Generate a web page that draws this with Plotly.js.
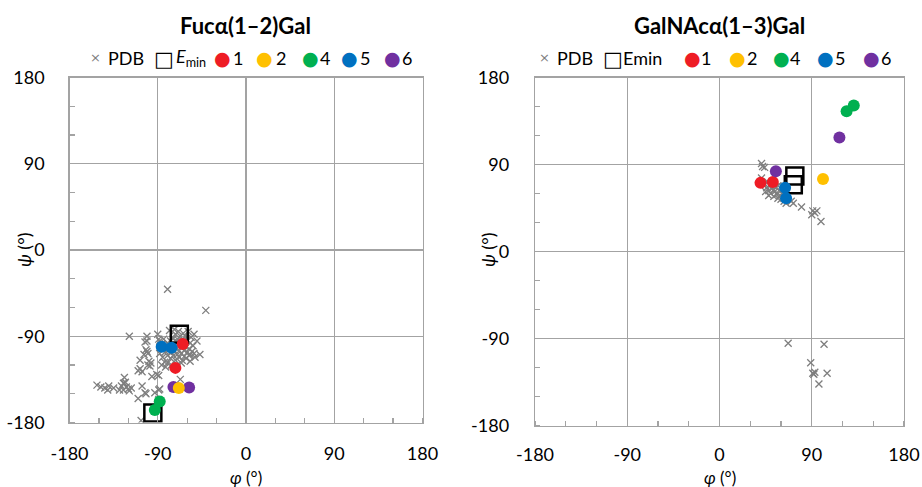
<!DOCTYPE html>
<html>
<head>
<meta charset="utf-8">
<script src="https://cdn.plot.ly/plotly-3.0.1.min.js"></script>
<style>html,body{margin:0;padding:0;background:#fff;}#chart{width:922px;height:487px;}</style>
</head>
<body>
<div id="chart"></div>
<script>
// ---------- Data: Fucα(1–2)Gal (left) ----------
const pdbPhiL = [-80,-41,-119,-101,-101,-102,-100,-104,-108,-99,-97,-100,-98,-108,-110,-106,-96,-91,-124,-125,-123,-152,-144,-140,-141,-135,-129,-127,-124,-122,-125,-120,-117,-119,-106,-110,-103,-102,-107,-89,-89,-89,-88,-93,-82,-67,-47,-53,-57,-103,-101,-90,-89,-148,
 -88,-86,-84,-83,-82,-80,-80,-79,-78,-77,-77,-76,-75,-75,-74,-74,-73,-73,-72,-72,-71,-71,-70,-70,-69,-69,-68,-68,-67,-67,-66,-66,-65,-65,-64,-64,-63,-63,-62,-62,-61,-60,-60,-59,-58,-58,-57,-56,-55,-54,-53,-52,-85,-83,-80,-78,-73,-88,-86,-76,-66,-61,-57,-50];
const pdbPsiL = [-41,-63,-90,-90,-95,-104,-108,-109,-115,-116,-118,-120,-121,-124,-126,-127,-132,-130,-133,-139,-138,-141,-144,-142,-146,-144,-146,-142,-139,-143,-146,-145,-144,-147,-142,-155,-149,-150,-178,-156,-146,-131,-145,-149,-122,-135,-109,-108,-109,-96,-106,-88,-93,-143,
 -95,-98,-93,-102,-106,-97,-110,-104,-99,-95,-113,-107,-103,-97,-110,-92,-100,-106,-115,-88,-96,-103,-109,-93,-100,-85,-105,-112,-97,-90,-102,-108,-94,-115,-99,-87,-105,-111,-96,-90,-101,-107,-94,-85,-103,-110,-97,-91,-106,-100,-88,-112,-112,-117,-118,-84,-83,-108,-120,-120,-118,-113,-116,-95];
const eminPhiL = [-95,-68];
const eminPsiL = [-170,-88];
const s1PhiL = [-64.5,-72], s1PsiL = [-98,-123];
const s2PhiL = [-68.5],     s2PsiL = [-144];
const s4PhiL = [-88,-93],   s4PsiL = [-158,-167];
const s5PhiL = [-86,-76],   s5PsiL = [-101,-102];
const s6PhiL = [-74,-58],   s6PsiL = [-143,-143.5];

// ---------- Data: GalNAcα(1–3)Gal (right) ----------
const pdbPhiR = [41,42,44,41,44,46,47,48,49,50,51,52,53,54,55,56,57,58,59,60,61,62,48,53,57,45,63,65,70,72,80,90,91,93,95,99,67,102,89,93,92,91,105,97];
const pdbPsiR = [91,88,87,76,70,66,72,63,68,60,65,70,57,62,67,59,55,63,58,54,60,56,58,64,68,62,52,50,52,50,46,38,42,40,42,31,-95,-96,-115,-125,-127,-126,-126,-137];
const eminPhiR = [73.5,72];
const eminPsiR = [78,69];
const s1PhiR = [40,52],   s1PsiR = [71,72];
const s2PhiR = [101],     s2PsiR = [75];
const s4PhiR = [131,124], s4PsiR = [151,145];
const s5PhiR = [64,65],   s5PsiR = [66,55];
const s6PhiR = [55,117],  s6PsiR = [83,118];

const seriesNames = ['1','2','4','5','6'];
const seriesColors = ['#EE1C25','#FFC000','#00B050','#0070C0','#7030A0'];
const tickVals = [-180,-90,0,90,180];
const tickText = ['-180','-90','0','90','180'];

const FONT = 'Lato, "Noto Sans", "DejaVu Sans", sans-serif';

function pdbTrace(x,y,xa,ya){
  return {type:'scatter',mode:'markers',x:x,y:y,xaxis:xa,yaxis:ya,showlegend:false,name:'PDB',
    marker:{symbol:'x-thin',size:7,color:'#7F7F7F',line:{color:'#7F7F7F',width:1.3}}};
}
function eminTrace(x,y,xa,ya){
  return {type:'scatter',mode:'markers',x:x,y:y,xaxis:xa,yaxis:ya,showlegend:false,name:'Emin',
    marker:{symbol:'square-open',size:17,color:'#000',line:{color:'#000',width:2.5}}};
}
function dotTrace(x,y,i,xa,ya){
  return {type:'scatter',mode:'markers',x:x,y:y,xaxis:xa,yaxis:ya,showlegend:false,name:seriesNames[i],
    marker:{symbol:'circle',size:12,color:seriesColors[i]}};
}

const data = [
  pdbTrace(pdbPhiL,pdbPsiL,'x','y'),
  eminTrace(eminPhiL,eminPsiL,'x','y'),
  dotTrace(s1PhiL,s1PsiL,0,'x','y'),
  dotTrace(s6PhiL,s6PsiL,4,'x','y'),
  dotTrace(s2PhiL,s2PsiL,1,'x','y'),
  dotTrace(s4PhiL,s4PsiL,2,'x','y'),
  dotTrace(s5PhiL,s5PsiL,3,'x','y'),
  pdbTrace(pdbPhiR,pdbPsiR,'x2','y2'),
  eminTrace(eminPhiR,eminPsiR,'x2','y2'),
  dotTrace(s1PhiR,s1PsiR,0,'x2','y2'),
  dotTrace(s2PhiR,s2PsiR,1,'x2','y2'),
  dotTrace(s4PhiR,s4PsiR,2,'x2','y2'),
  dotTrace(s5PhiR,s5PsiR,3,'x2','y2'),
  dotTrace(s6PhiR,s6PsiR,4,'x2','y2')
];

function axis(domain, anchor){
  return {
    domain:domain, anchor:anchor, range:[-180,180], autorange:false,
    tickmode:'array', tickvals:tickVals, ticktext:tickText, ticks:'',
    ticklabelstandoff:15,
    showgrid:true, gridcolor:'#A3A3A3', gridwidth:1.3, zeroline:false,
    showline:true, mirror:true, linecolor:'#A3A3A3', linewidth:1.3,
    minor:{dtick:30, tick0:0, ticks:'inside', ticklen:5, tickcolor:'#A3A3A3', tickwidth:1.3, showgrid:false},
    tickfont:{family:FONT,size:18,color:'#000'},
    fixedrange:true
  };
}

const W = 922, H = 487;
const fx = p => p / W;
const fy = p => (H - p) / H;

const layout = {
  width:W, height:H, margin:{l:0,r:0,t:0,b:0},
  paper_bgcolor:'#fff', plot_bgcolor:'#fff',
  showlegend:false,
  xaxis:axis([69.5/W, 422.5/W],'y'),
  yaxis:axis([(H-422.5)/H,(H-77.5)/H],'x'),
  xaxis2:axis([535/W, 904/W],'y2'),
  yaxis2:axis([(H-425.5)/H,(H-77.5)/H],'x2'),
  font:{family:FONT,size:18,color:'#000'}
};
layout.yaxis.ticklabelstandoff = 20;
layout.yaxis2.ticklabelstandoff = 21;
layout.xaxis2.ticklabelstandoff = 13;

const annotations = [];
function txt(text, px, py, opts){
  annotations.push(Object.assign({text:text, x:fx(px), y:fy(py), xref:'paper', yref:'paper',
    showarrow:false, xanchor:'left', yanchor:'middle',
    font:{family:FONT,size:18,color:'#000'}}, opts||{}));
}
// titles
txt('<b>Fucα(1–2)Gal</b>', 246, 25, {xanchor:'center', font:{family:FONT,size:22,color:'#000'}});
txt('<b>GalNAcα(1–3)Gal</b>', 719, 25, {xanchor:'center', font:{family:FONT,size:22,color:'#000'}});
// axis titles
txt('<i>φ</i> (°)', 246, 477, {xanchor:'center', font:{family:FONT,size:17,color:'#000'}});
txt('<i>φ</i> (°)', 720, 477, {xanchor:'center', font:{family:FONT,size:17,color:'#000'}});
txt('<i>ψ</i> (°)', 24, 250, {xanchor:'center', textangle:-90});
txt('<i>ψ</i> (°)', 488, 250, {xanchor:'center', textangle:-90});

// legends
function legend(symX, txtX, labels, py){
  txt('×', symX[0], py, {xanchor:'center', font:{family:'"DejaVu Sans", sans-serif',size:13,color:'#7F7F7F'}});
  txt(labels[0], txtX[0], py);
  txt('<b>□</b>', symX[1], py+1, {xanchor:'center', font:{family:'"DejaVu Sans", sans-serif',size:21,color:'#000'}});
  txt(labels[1], txtX[1], py);
  for(let i=0;i<seriesNames.length;i++){
    txt('●', symX[i+2], py, {xanchor:'center', font:{family:'"DejaVu Sans", sans-serif',size:19,color:seriesColors[i]}});
    txt(seriesNames[i], txtX[i+2], py);
  }
}
legend([95,164,222,264,310,349,392],[106,174,231,274,318,358,400],['PDB','<i>E</i><sub>min</sub>'],58);
legend([544,613,692,737,781,825,871],[555,621,699,745,788,833,879],['PDB','Emin'],58);

layout.annotations = annotations;

Plotly.newPlot('chart', data, layout, {staticPlot:true, displayModeBar:false});
</script>
</body>
</html>
